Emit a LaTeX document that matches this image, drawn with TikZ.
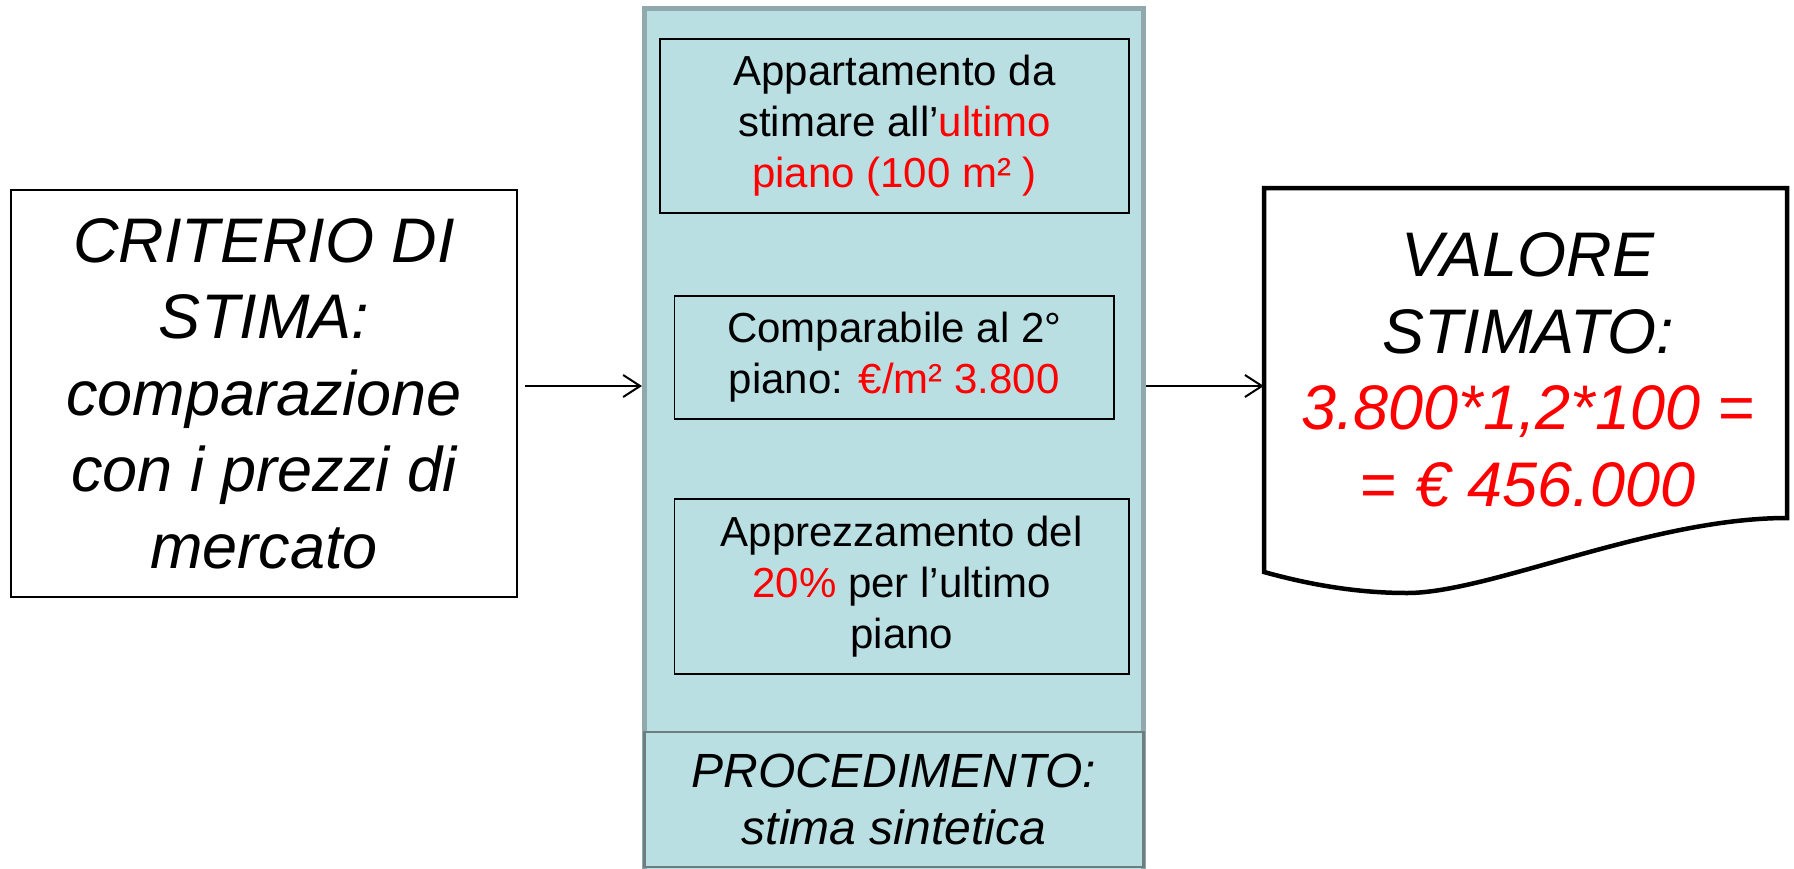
\documentclass[tikz,border=0pt]{standalone}
\usepackage{fontspec}
\setmainfont{Liberation Sans}
\usetikzlibrary{arrows.meta}
\definecolor{colfill}{HTML}{B9DFE3}
\definecolor{colborder}{HTML}{8FA9AC}
\definecolor{procborder}{HTML}{6E7E80}
\definecolor{hot}{HTML}{FF0000}
\tikzset{
  plainbox/.style={draw=black, line width=1.8pt, inner sep=0pt, align=center},
  stepfont/.style={font=\fontsize{42}{51}\selectfont},
  bigfont/.style={font=\fontsize{63}{76.5}\selectfont\itshape},
  procfont/.style={font=\fontsize{48}{57}\selectfont\itshape},
  arr/.style={-{Straight Barb[length=17pt,width=22pt]}, line width=2pt},
}
\begin{document}
\begin{tikzpicture}[x=1pt,y=-1pt]
\useasboundingbox (0,0) rectangle (1794,868);
% left box
\node[plainbox, bigfont, minimum width=506pt, minimum height=407pt] (crit) at (264,393.5)
  {CRITERIO DI\\STIMA:\\comparazione\\con i prezzi di\\mercato};
% central column
\node[draw=colborder, fill=colfill, line width=5pt, minimum width=499pt, minimum height=872pt, inner sep=0pt] (col) at (894,444.5) {};
\node[plainbox, stepfont, minimum width=469pt, minimum height=174pt] (b1) at (894.5,126)
  {Appartamento da\\stimare all’\textcolor{hot}{ultimo}\\\textcolor{hot}{piano (100 m² )}};
\node[plainbox, stepfont, minimum width=439.5pt, minimum height=123pt] (b2) at (894.25,357.5)
  {Comparabile al 2°\\piano: \textcolor{hot}{€/m² 3.800}};
\node[plainbox, stepfont, minimum width=454.5pt, minimum height=175pt] (b3) at (901.75,586.5)
  {Apprezzamento del\\\textcolor{hot}{20\%} per l’ultimo\\piano};
\node[draw=procborder, fill=colfill, line width=2.5pt, inner sep=0pt, align=center, procfont,
  minimum width=499pt, minimum height=135pt] (proc) at (894,799.5)
  {PROCEDIMENTO:\\stima sintetica};
% document shape
\node[minimum width=523pt, minimum height=384pt, inner sep=0pt] (doc) at (1525.5,380) {};
\draw[line width=4.5pt, fill=white, line join=miter]
  (1264,188) -- (1787,188) -- (1787,518)
  .. controls (1650,518) and (1490,593) .. (1407,593)
  .. controls (1350,593) and (1300,582) .. (1264,572) -- cycle;
\node[bigfont, align=center, inner sep=0pt] (doctext) at (1528,370)
  {VALORE\\STIMATO:\\\textcolor{hot}{3.800*1,2*100 {\upshape =}}\\\textcolor{hot}{{\upshape =} € 456.000}};
% arrows
\coordinate (ay) at (0,386);
\draw[arr] ([xshift=7pt]crit.east |- ay) -- (col.west |- ay);
\draw[arr] (col.east |- ay) -- (doc.west |- ay);
\end{tikzpicture}
\end{document}
